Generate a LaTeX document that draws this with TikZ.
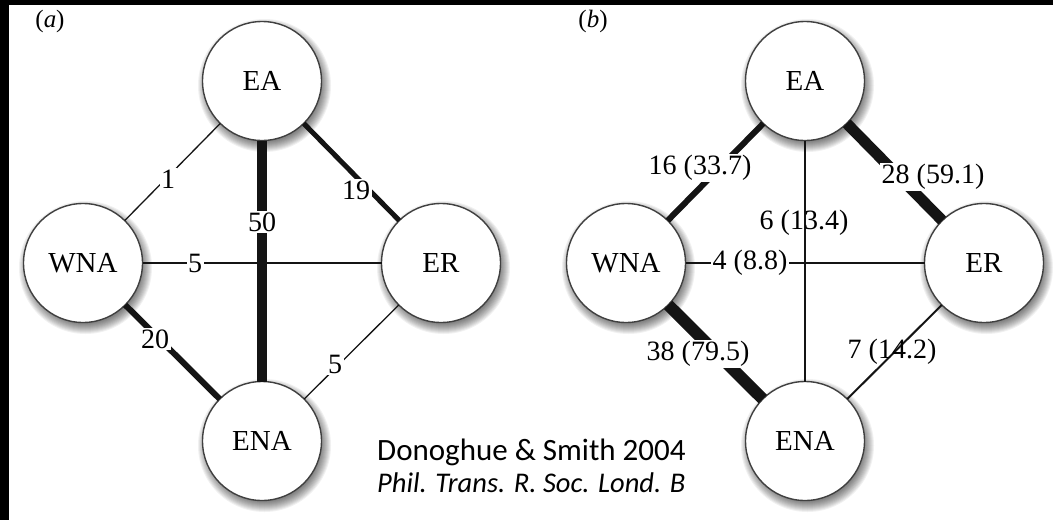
\documentclass[tikz,border=0pt]{standalone}
\usepackage{fontspec}
\setmainfont{Liberation Serif}
\newfontfamily\citefont{Carlito}
\usetikzlibrary{calc}

\tikzset{
  region/.style={circle, draw=black!75, line width=1.4pt, fill=white,
    minimum size=119pt, inner sep=0pt, outer sep=0pt,
    font=\fontsize{29}{29}\selectfont},
  flow/.style={draw=black!92, line width=#1},
  weight/.style={font=\fontsize{28}{28}\selectfont, inner sep=1.5pt, fill=white},
  weightclear/.style={font=\fontsize{28}{28}\selectfont, inner sep=1.5pt},
  paneltag/.style={font=\fontsize{25}{25}\selectfont, inner sep=0pt},
}

% soft shadow under a region circle
\newcommand\regionshadow[1]{%
  \foreach \rr in {56.5,57.5,...,66.5}
    {\fill[black, opacity=0.055] ($(#1)+(2.5,4.5)$) circle [radius=\rr pt];}}

\begin{document}
\begin{tikzpicture}[x=1pt, y=-1pt]
\useasboundingbox (0,0) rectangle (1053,520);
\fill[white] (0,0) rectangle (1053,520);
\fill[black] (0,0) rectangle (1053,5);
\fill[black] (0,0) rectangle (9,520);

% region centres
\coordinate (pEAa)  at (262,81);
\coordinate (pWNAa) at (83,263);
\coordinate (pERa)  at (441,263);
\coordinate (pENAa) at (262,441);
\coordinate (pEAb)  at (805,81);
\coordinate (pWNAb) at (626,263);
\coordinate (pERb)  at (984,263);
\coordinate (pENAb) at (805,441);

\foreach \c in {pEAa,pWNAa,pERa,pENAa,pEAb,pWNAb,pERb,pENAb}
  {\regionshadow{\c}}

% panel (a)
\node[region] (EAa)  at (pEAa)  {EA};
\node[region] (WNAa) at (pWNAa) {WNA};
\node[region] (ERa)  at (pERa)  {ER};
\node[region] (ENAa) at (pENAa) {ENA};

\draw[flow=1.3pt] (WNAa) -- (EAa);
\draw[flow=5pt]   (EAa) -- (ERa);
\draw[flow=1.3pt] (WNAa) -- (ERa);
\draw[flow=10pt]  (EAa) -- (ENAa);
\draw[flow=6pt]   (WNAa) -- (ENAa);
\draw[flow=1.3pt] (ERa) -- (ENAa);

\node[weight] (wa1) at (168,179) {1};
\node[weight] (wa2) at (356,190) {19};
\node[weight] (wa3) at (262,222) {50};
\node[weight] (wa4) at (195,263) {5};
\node[weight] (wa5) at (155,339) {20};
\node[weight] (wa6) at (335,364) {5};

% panel (b)
\node[region] (EAb)  at (pEAb)  {EA};
\node[region] (WNAb) at (pWNAb) {WNA};
\node[region] (ERb)  at (pERb)  {ER};
\node[region] (ENAb) at (pENAb) {ENA};

\draw[flow=6pt]   (WNAb) -- (EAb);
\draw[flow=11pt]  (EAb) -- (ERb);
\draw[flow=1.2pt] (WNAb) -- (ERb);
\draw[flow=1.3pt] (EAb) -- (ENAb);
\draw[flow=12pt]  (WNAb) -- (ENAb);
\draw[flow=2pt]   (ERb) -- (ENAb);

\node[weight] (wb1) at (700,168) {16 (33.7)};
\node[weight] (wb2) at (933,177) {28 (59.1)};
\node[weightclear] (wb3) at (804,223) {6 (13.4)};
\node[weight] (wb4) at (750,263) {4 (8.8)};
\node[weight] (wb5) at (698,354) {38 (79.5)};
\node[weightclear] (wb6) at (892,352) {7 (14.2)};

% panel tags
\node[paneltag] (tagA) at (50,21)  {({\itshape a})};
\node[paneltag] (tagB) at (593,21) {({\itshape b})};

% source
\node[anchor=base west, inner sep=0pt, font=\citefont\fontsize{31}{31}\selectfont]
  (cite1) at (377,460) {Donoghue \& Smith 2004};
\node[anchor=base west, inner sep=0pt, font=\citefont\fontsize{28.5}{28.5}\selectfont\itshape]
  (cite2) at (377,492) {Phil. Trans. R. Soc. Lond. B};
\end{tikzpicture}
\end{document}
